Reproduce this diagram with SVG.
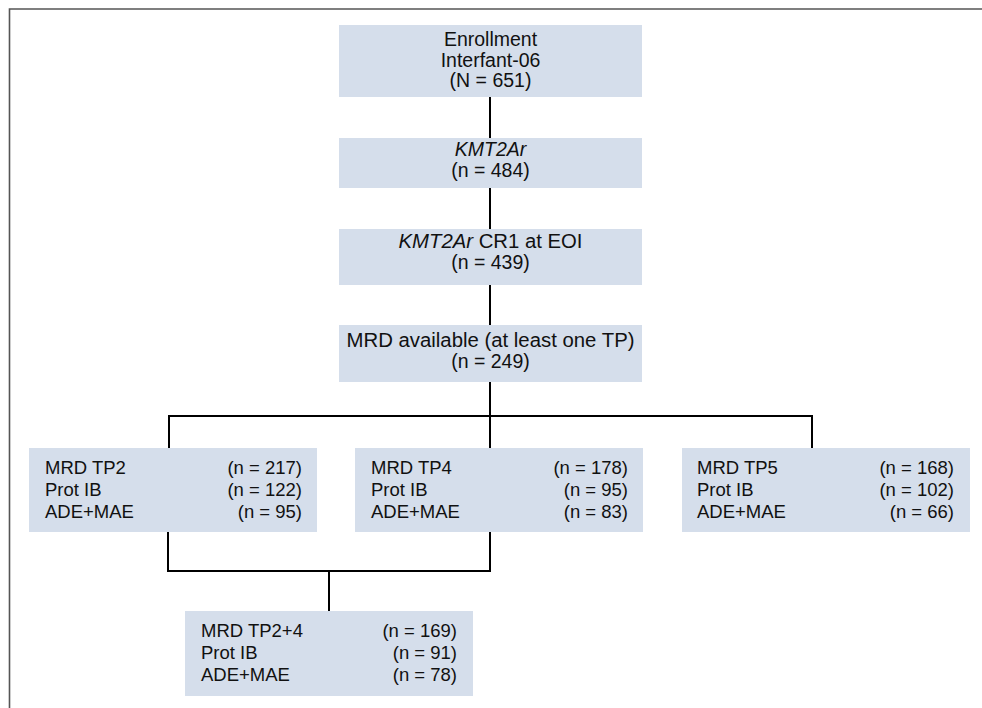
<svg xmlns="http://www.w3.org/2000/svg" width="982" height="708" viewBox="0 0 982 708">
<style>
.box{fill:#d5deeb}
.t{font-family:"Liberation Sans",Arial,Helvetica,sans-serif;font-size:18.5px;fill:#111}
.c{text-anchor:middle;font-size:19.5px}
.r{text-anchor:end}
.i{font-style:italic}
.ln{stroke:#000;stroke-width:2;fill:none}
</style>
<rect width="982" height="708" fill="#fff"/>
<path d="M9.5 708 V9 H982" stroke="#555" stroke-width="1.6" fill="none"/>
<g id="connectors">
<path class="ln" d="M490 97 V138"/>
<path class="ln" d="M490 188 V229"/>
<path class="ln" d="M490 285 V325"/>
<path class="ln" d="M490 382 V448"/>
<path class="ln" d="M169 448 V416 H812 V448"/>
<path class="ln" d="M168 532 V571 H490 V532"/>
<path class="ln" d="M329 571 V611"/>
</g>
<g id="enrollment">
<rect class="box" x="339" y="25" width="303" height="72"/>
<text class="t c" x="490.5" y="46">Enrollment</text>
<text class="t c" x="490.5" y="67">Interfant-06</text>
<text class="t c" x="490.5" y="87">(N = 651)</text>
</g>
<g id="kmt2ar">
<rect class="box" x="339" y="138" width="303" height="50"/>
<text class="t c i" x="490.5" y="156">KMT2Ar</text>
<text class="t c" x="490.5" y="177">(n = 484)</text>
</g>
<g id="cr1">
<rect class="box" x="339" y="229" width="303" height="56"/>
<text class="t c" x="490.5" y="248" textLength="184" lengthAdjust="spacingAndGlyphs"><tspan class="i">KMT2Ar</tspan> CR1 at EOI</text>
<text class="t c" x="490.5" y="269">(n = 439)</text>
</g>
<g id="mrd">
<rect class="box" x="339" y="325" width="303" height="57"/>
<text class="t c" x="490.5" y="347" textLength="288" lengthAdjust="spacingAndGlyphs">MRD available (at least one TP)</text>
<text class="t c" x="490.5" y="368">(n = 249)</text>
</g>
<g id="tp2">
<rect class="box" x="29" y="448" width="288" height="84"/>
<text class="t" x="45" y="474">MRD TP2</text>
<text class="t" x="45" y="496">Prot IB</text>
<text class="t" x="45" y="518">ADE+MAE</text>
<text class="t r" x="302" y="474">(n = 217)</text>
<text class="t r" x="302" y="496">(n = 122)</text>
<text class="t r" x="302" y="518">(n = 95)</text>
</g>
<g id="tp4">
<rect class="box" x="355" y="448" width="288" height="84"/>
<text class="t" x="371" y="474">MRD TP4</text>
<text class="t" x="371" y="496">Prot IB</text>
<text class="t" x="371" y="518">ADE+MAE</text>
<text class="t r" x="628" y="474">(n = 178)</text>
<text class="t r" x="628" y="496">(n = 95)</text>
<text class="t r" x="628" y="518">(n = 83)</text>
</g>
<g id="tp5">
<rect class="box" x="682" y="448" width="288" height="84"/>
<text class="t" x="697" y="474">MRD TP5</text>
<text class="t" x="697" y="496">Prot IB</text>
<text class="t" x="697" y="518">ADE+MAE</text>
<text class="t r" x="954" y="474">(n = 168)</text>
<text class="t r" x="954" y="496">(n = 102)</text>
<text class="t r" x="954" y="518">(n = 66)</text>
</g>
<g id="tp24">
<rect class="box" x="185" y="611" width="288" height="85"/>
<text class="t" x="201" y="637">MRD TP2+4</text>
<text class="t" x="201" y="659">Prot IB</text>
<text class="t" x="201" y="681">ADE+MAE</text>
<text class="t r" x="457" y="637">(n = 169)</text>
<text class="t r" x="457" y="659">(n = 91)</text>
<text class="t r" x="457" y="681">(n = 78)</text>
</g>
</svg>
